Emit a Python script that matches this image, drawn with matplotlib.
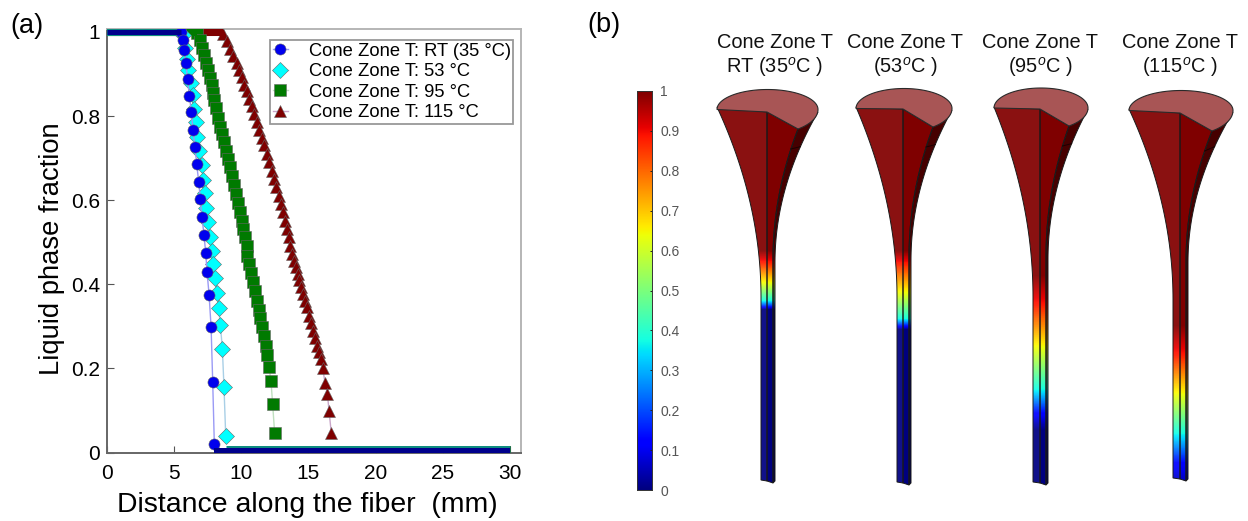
import numpy as np
import matplotlib
matplotlib.use('agg')
import matplotlib.pyplot as plt
from matplotlib.patches import Polygon

plt.rcParams['font.family'] = ['Liberation Sans', 'DejaVu Sans']
plt.rcParams['mathtext.fontset'] = 'custom'
plt.rcParams['mathtext.rm'] = 'Liberation Sans'
plt.rcParams['mathtext.it'] = 'Liberation Sans:italic'

W, H = 1248, 521

# panel (a), slope part of each curve, flat parts are the two ends
labels = ['Cone Zone T: RT (35 °C)', 'Cone Zone T: 53 °C', 'Cone Zone T: 95 °C', 'Cone Zone T: 115 °C']

x_rt = [0, 5.51, 5.63, 5.76, 5.88, 6.00, 6.13, 6.28, 6.40, 6.55, 6.68, 6.83, 6.95, 7.07, 7.22,
        7.35, 7.45, 7.60, 7.75, 7.87, 7.99, 30]
y_rt = [1, 1.0, 0.982, 0.956, 0.925, 0.887, 0.848, 0.810, 0.768, 0.726, 0.685, 0.643, 0.602, 0.560, 0.518,
        0.474, 0.429, 0.375, 0.298, 0.168, 0.021, 0]

x_53 = [0, 5.68, 5.81, 5.93, 6.06, 6.23, 6.38, 6.50, 6.60, 6.73, 6.87, 7.05, 7.17, 7.27, 7.37, 7.52, 7.69, 7.82,
        7.92, 8.04, 8.19, 8.31, 8.44, 8.59, 8.71, 8.84, 30]
y_53 = [1, 0.992, 0.963, 0.936, 0.909, 0.879, 0.849, 0.817, 0.786, 0.750, 0.716, 0.683, 0.649, 0.617, 0.582, 0.548, 0.513, 0.480,
        0.448, 0.414, 0.380, 0.344, 0.304, 0.246, 0.155, 0.039, 0]

x_95 = [0, 6.73, 6.92, 7.10, 7.25, 7.40, 7.55, 7.67, 7.82, 7.89, 7.97, 8.12, 8.27, 8.41, 8.59, 8.74, 8.89, 9.03,
        9.18, 9.33, 9.43, 9.58, 9.73, 9.88, 10.03, 10.15, 10.27, 10.40, 10.45, 10.60, 10.75, 10.90, 11.02,
        11.14, 11.29, 11.42, 11.54, 11.67, 11.81, 11.94, 12.06, 12.21, 12.33, 12.48, 30]
y_95 = [1, 0.998, 0.980, 0.963, 0.945, 0.927, 0.909, 0.891, 0.873, 0.856, 0.837, 0.818, 0.796, 0.775, 0.758, 0.738, 0.718, 0.698,
        0.678, 0.657, 0.637, 0.615, 0.594, 0.571, 0.551, 0.532, 0.512, 0.490, 0.468, 0.448, 0.426, 0.405, 0.383,
        0.361, 0.340, 0.319, 0.298, 0.276, 0.254, 0.231, 0.204, 0.169, 0.116, 0.046, 0]

x_115 = [0, 8.66, 8.91, 9.16, 9.41, 9.65, 9.83, 10.03, 10.23, 10.42, 10.60, 10.77, 10.95, 11.14, 11.32, 11.52, 11.69, 11.89,
         12.06, 12.26, 12.43, 12.61, 12.78, 12.96, 13.13, 13.28, 13.42, 13.55, 13.65, 13.80, 13.95, 14.07, 14.20,
         14.32, 14.45, 14.57, 14.72, 14.87, 15.02, 15.17, 15.31, 15.46, 15.61, 15.76, 15.91, 16.06, 16.23, 16.41,
         16.53, 16.70, 30]
y_115 = [1, 0.996, 0.979, 0.960, 0.942, 0.925, 0.909, 0.893, 0.875, 0.860, 0.841, 0.824, 0.806, 0.786, 0.767, 0.748, 0.730, 0.710,
         0.690, 0.670, 0.651, 0.631, 0.611, 0.591, 0.571, 0.551, 0.532, 0.512, 0.492, 0.472, 0.456, 0.441, 0.425,
         0.409, 0.393, 0.377, 0.361, 0.345, 0.325, 0.309, 0.290, 0.272, 0.254, 0.238, 0.222, 0.202, 0.165, 0.139,
         0.099, 0.046, 0]

x_ticks = [0, 5, 10, 15, 20, 25, 30]
y_ticks = [0, 0.2, 0.4, 0.6, 0.8, 1]
y_tick_labels = ['0', '0.2', '0.4', '0.6', '0.8', '1']

# panel (b)
fiber_titles = [['Cone Zone T', 'RT (35$^{\\mathit{o}}$C )'], ['Cone Zone T', '(53$^{\\mathit{o}}$C )'],
                ['Cone Zone T', '(95$^{\\mathit{o}}$C )'], ['Cone Zone T', '(115$^{\\mathit{o}}$C )']]
title_x = [775, 905, 1040, 1180]
# liquid fraction down the fiber, y in pixels of the figure
profile_y = [[250, 262, 283, 300, 306, 309],
             [250, 263, 293, 318, 325, 329],
             [275, 305, 348, 388, 413, 430],
             [325, 355, 395, 432, 463, 490]]
profile_v = [[1, 0.88, 0.63, 0.38, 0.15, 0],
             [1, 0.88, 0.63, 0.38, 0.15, 0],
             [1, 0.88, 0.63, 0.38, 0.12, 0],
             [1, 0.88, 0.63, 0.38, 0.12, 0.02]]
# left, centre, right vertex, ellipse right, stem left, stem right, bottom, left y, centre y, right y, ellipse right y
fiber_geom = [[717, 767, 798, 818, 761, 775, 480, 107, 112, 129, 112],
              [856, 903, 933, 952, 897, 911, 482, 107, 109, 127, 110],
              [994, 1040, 1069, 1088, 1033, 1048, 482, 107, 109, 126, 109],
              [1129, 1180, 1212, 1233, 1173, 1188, 478, 109, 113, 131, 112]]
cbar_ticks = [0, 0.1, 0.2, 0.3, 0.4, 0.5, 0.6, 0.7, 0.8, 0.9, 1]
cbar_tick_labels = ['0', '0.1', '0.2', '0.3', '0.4', '0.5', '0.6', '0.7', '0.8', '0.9', '1']


def px_axes(fig, left, top, right, bottom):
    return fig.add_axes([left / W, 1 - bottom / H, (right - left) / W, (bottom - top) / H])


def edge(x0, y0, x1, dy_max):
    # flare of the cone, from the rim down to the straight stem
    t = np.linspace(0, 1, 40)
    xs = x0 + (x1 - x0) * (1 - (1 - t) ** 2)
    ys = y0 + dy_max * t
    return list(zip(xs, ys))


def draw_face(ax, pts, rgb, scale, offset):
    poly = Polygon(pts, closed=True, facecolor='none', edgecolor='#1a1a1a', lw=0.7, zorder=3)
    ax.add_patch(poly)
    im = ax.imshow(np.clip(rgb * scale + offset, 0, 1), extent=(0, W, 521, 80), aspect='auto',
                   interpolation='bilinear', zorder=2)
    im.set_clip_path(poly)


def draw_fiber(ax, geom, py, pv):
    L, C, R, E, SL, SR, B, Ly, Cy, Ry, Ey = geom
    rows = np.arange(80, 521)
    vals = np.interp(rows, py, pv)
    rgb = plt.get_cmap('jet')(vals)[:, :3].reshape(-1, 1, 3)
    inner = SR - 2

    left_edge = edge(L, Ly, SL, 190)
    inner_edge = edge(R, Ry, inner, 130)
    outer_edge = edge(E, Ey, SR, 150)

    draw_face(ax, left_edge + [(SL, B), (C, B + 1), (C, Cy)], rgb, 0.95, 0.07)
    draw_face(ax, [(C, Cy)] + inner_edge + [(inner, B + 3), (C, B + 1)], rgb, 1.0, 0.0)
    draw_face(ax, inner_edge + [(inner, B + 3), (SR, B + 1)] + outer_edge[::-1], rgb, 0.55, 0.0)

    # small seam over the dark face
    ax.plot([inner_edge[6][0], outer_edge[9][0]], [inner_edge[6][1], outer_edge[9][1]],
            color='#1a0000', lw=0.7, zorder=3)

    # top cap of the cone, lower part of the rim runs into the right vertex
    mx, a = (L + E) / 2, (E - L) / 2
    my = (Ly + Ey) / 2
    th_end = -np.arccos((R - mx) / a)
    b_low = (Ry - my) / abs(np.sin(th_end))
    th = np.linspace(np.pi, th_end, 80)
    b = np.where(th < 0, b_low, 20)
    arc = list(zip(mx + a * np.cos(th), my - b * np.sin(th)))
    ax.add_patch(Polygon(arc + [(R, Ry), (C, Cy)], closed=True, facecolor='#a85555',
                         edgecolor='#2a2a2a', lw=0.8, zorder=4))


fig = plt.figure(figsize=(W / 100, H / 100), dpi=100)

# (a)
ax = px_axes(fig, 107, 29, 520.7, 452.5)
styles = [(x_115, y_115, '^', '#7f0000', '#c9a6c9', 3, 9),
          (x_95, y_95, 's', '#007a00', '#bfe0bf', 4, 8),
          (x_53, y_53, 'D', '#00ffff', '#a9cfe6', 5, 8),
          (x_rt, y_rt, 'o', '#0000ee', '#9a9af5', 6, 8)]
band_top = [5.8, 5.8, 5.8, 3.6]
band_bottom = [10.8, 10.8, 10.8, 7.2]
handles = {}
for (xs, ys, m, c, lc, z, ms), bt, bb in zip(styles, band_top, band_bottom):
    ax.plot(xs[1:-1], ys[1:-1], '-', color=lc, lw=1, zorder=z)
    ax.plot(xs[1:-1], ys[1:-1], ls='none', marker=m, ms=ms, mfc=c, mec='#666666', mew=0.4, zorder=z)
    band = c if c != '#00ffff' else '#0f8c80'
    if m == 'o':
        band = '#00008c'
    ax.plot(xs[:2], [1, 1], '-', color=band, lw=bt, solid_capstyle='butt', zorder=z)
    ax.plot(xs[-2:], [0, 0], '-', color=band, lw=bb, solid_capstyle='butt', zorder=z + 4)
    handles[m], = ax.plot([], [], '-', color=lc, lw=1, marker=m, ms=ms, mfc=c, mec='#666666', mew=0.4)

ax.set_xlim(0, 30.8)
ax.set_ylim(0, 1.007)
ax.set_xticks(x_ticks)
ax.set_yticks(y_ticks)
ax.set_yticklabels(y_tick_labels)
ax.tick_params(direction='in', length=5, width=0.8, color='#555555', labelsize=15, pad=5)
ax.tick_params(axis='x', pad=8)
ax.spines['left'].set_color('#666666')
ax.spines['bottom'].set_color('#666666')
ax.spines['top'].set_color('#b5b5b5')
ax.spines['right'].set_color('#b5b5b5')
for s in ax.spines.values():
    s.set_linewidth(1.4)
fig.text(307.5 / W, 1 - 505 / H, 'Distance along the fiber  (mm)', fontsize=20.4, ha='center', va='center')
fig.text(52 / W, 1 - 248.5 / H, 'Liquid phase fraction', fontsize=19.7, rotation=90, ha='center', va='center')
leg = ax.legend([handles['o'], handles['D'], handles['s'], handles['^']], labels, loc='upper left',
                bbox_to_anchor=(270 / W, 1 - 40 / H), bbox_transform=fig.transFigure, borderaxespad=0,
                fontsize=13.2, frameon=True, fancybox=False, framealpha=1, edgecolor='#999999',
                handlelength=0.82, handletextpad=1.15, labelspacing=0.19, borderpad=0.14)
leg.get_frame().set_linewidth(1.3)
leg.set_zorder(20)

fig.text(10 / W, 1 - 26 / H, '(a)', fontsize=19.5, va='center')
fig.text(587 / W, 1 - 25 / H, '(b)', fontsize=19.5, va='center')

# (b) colour bar
cax = px_axes(fig, 637, 91, 652, 490)
cax.imshow(np.linspace(1, 0, 256).reshape(-1, 1), cmap='jet', vmin=0, vmax=1, aspect='auto', extent=(0, 1, 0, 1))
cax.set_xticks([])
cax.yaxis.tick_right()
cax.set_yticks(cbar_ticks)
cax.set_yticklabels(cbar_tick_labels)
cax.tick_params(axis='y', direction='in', length=1.5, width=0.7, color='#222222', labelsize=10,
                labelcolor='#555555', pad=6)
for s in cax.spines.values():
    s.set_linewidth(0.7)
    s.set_color('#333333')

# (b) fibers, drawn in figure pixels
bx = fig.add_axes([0, 0, 1, 1], facecolor='none')
for g, py, pv in zip(fiber_geom, profile_y, profile_v):
    draw_fiber(bx, g, py, pv)
bx.set_xlim(0, W)
bx.set_ylim(H, 0)
bx.axis('off')

for tx, lines in zip(title_x, fiber_titles):
    fig.text(tx / W, 1 - 42 / H, lines[0], fontsize=14.4, ha='center', va='center', color='#111111')
    fig.text(tx / W, 1 - 67 / H, lines[1], fontsize=14.4, ha='center', va='center', color='#111111')

fig.savefig('out.png', dpi=100)
